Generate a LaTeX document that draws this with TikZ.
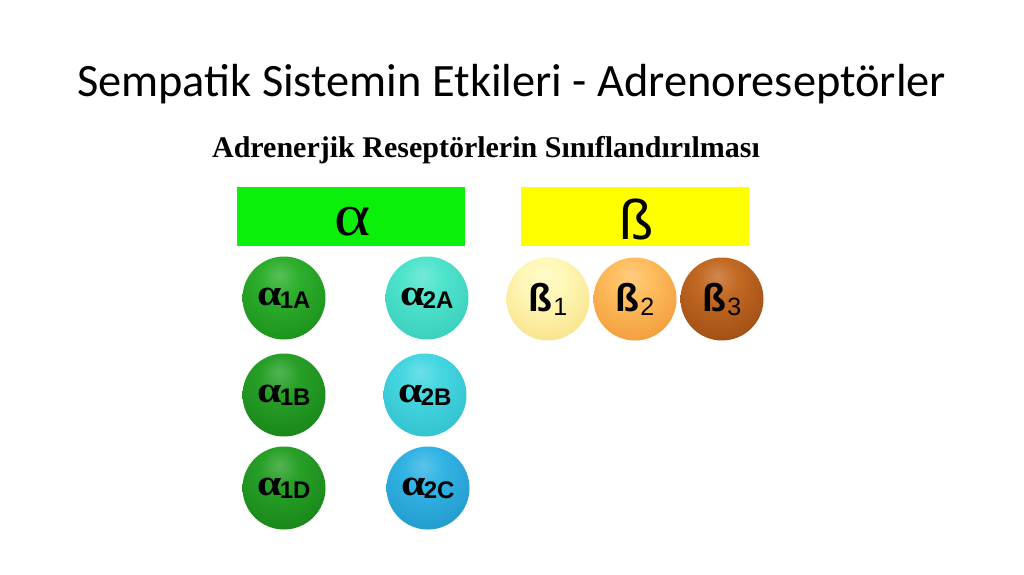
\documentclass[tikz,border=0pt]{standalone}
\usepackage{fontspec}
\setmainfont{Liberation Serif}
\newfontfamily\titlefont{Carlito}
\newfontfamily\arialfont{Liberation Sans}
\definecolor{hgreen}{RGB}{10,240,10}
\definecolor{hyellow}{RGB}{255,255,0}
\colorlet{ballin}{white}
\colorlet{ballout}{black}
\pgfdeclareradialshading[ballin,ballout]{sphere}{\pgfpoint{-3bp}{14bp}}{%
  color(0bp)=(ballin!80!white); color(12bp)=(ballin); color(44bp)=(ballout!55!ballin); color(64bp)=(ballout); color(80bp)=(ballout)}
\newcommand\alab[2]{\scalebox{1.18}[1]{\bfseries\fontsize{37}{37}\selectfont α}\kern-2pt\raisebox{-3pt}{\arialfont\bfseries\fontsize{24}{24}\selectfont #1#2}}
\newcommand\blab[1]{{\arialfont\bfseries\fontsize{39}{39}\selectfont ß}\kern1pt\raisebox{-4pt}{\arialfont\fontsize{25}{25}\selectfont #1}}
\tikzset{
  hdr/.style={minimum width=228pt, minimum height=59pt, inner sep=0pt},
  sph/.style 2 args={circle, minimum size=83pt, inner sep=0pt, shading=sphere,
    /utils/exec={\colorlet{ballin}{#1}\colorlet{ballout}{#2}}},
}
\begin{document}
\begin{tikzpicture}[x=1pt,y=-1pt]
\useasboundingbox (0,0) rectangle (1024,574);
\fill[white] (0,0) rectangle (1024,574);
\node[font=\titlefont\fontsize{46.4}{54}\selectfont] (title) at (511.5,84) {Sempatik Sistemin Etkileri - Adrenoreseptörler};
\node[font=\bfseries\fontsize{30}{34}\selectfont] (sub) at (486,150) {Adrenerjik Reseptörlerin Sınıflandırılması};
\node[hdr, fill=hgreen] (ahdr) at (350.5,216.5) {};
\node[font=\fontsize{60}{60}\selectfont, inner sep=0pt, xscale=1.15] (atxt) at (353,222) {α};
\node[hdr, fill=hyellow] (bhdr) at (635,216.5) {};
\node[font=\arialfont\fontsize{56}{56}\selectfont, inner sep=0pt] (btxt) at (637,219) {ß};
\node[sph={rgb,255:red,45;green,175;blue,45}{rgb,255:red,0;green,100;blue,0}] (a1A) at (284,298) {\alab{1}{A}};
\node[sph={rgb,255:red,40;green,160;blue,40}{rgb,255:red,0;green,95;blue,0}] (a1B) at (284,395) {\alab{1}{B}};
\node[sph={rgb,255:red,40;green,160;blue,40}{rgb,255:red,0;green,95;blue,0}] (a1D) at (284,488) {\alab{1}{D}};
\node[sph={rgb,255:red,80;green,228;blue,205}{rgb,255:red,20;green,175;blue,160}] (a2A) at (427,298) {\alab{2}{A}};
\node[sph={rgb,255:red,70;green,215;blue,225}{rgb,255:red,20;green,160;blue,180}] (a2B) at (425,395) {\alab{2}{B}};
\node[sph={rgb,255:red,50;green,180;blue,228}{rgb,255:red,10;green,115;blue,170}] (a2C) at (428,488) {\alab{2}{C}};
\node[sph={rgb,255:red,255;green,248;blue,185}{rgb,255:red,238;green,195;blue,70}] (b1) at (548,299) {\blab{1}};
\node[sph={rgb,255:red,255;green,190;blue,95}{rgb,255:red,222;green,105;blue,5}] (b2) at (635,299) {\blab{2}};
\node[sph={rgb,255:red,195;green,105;blue,35}{rgb,255:red,105;green,38;blue,0}] (b3) at (722,299) {\blab{3}};
\end{tikzpicture}
\end{document}
